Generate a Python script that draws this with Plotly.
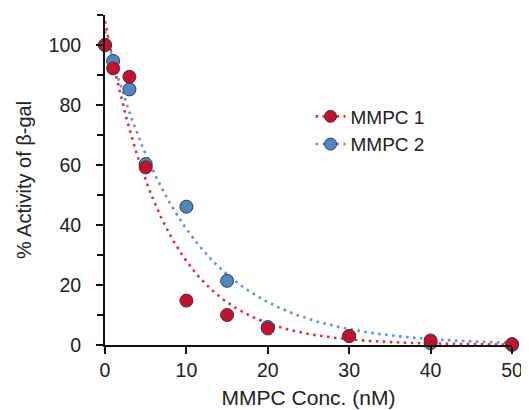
import numpy as np
import plotly.graph_objects as go

# ---- data ----
conc = [0, 1, 3, 5, 10, 15, 20, 30, 40, 50]
mmpc1 = [100, 92.2, 89.4, 59.2, 14.8, 10.0, 5.5, 3.0, 1.5, 0.3]
mmpc2 = [100, 94.7, 85.2, 60.3, 46.1, 21.4, 6.0, 3.0, 0.6, 0.0]
series_names = ["MMPC 1", "MMPC 2"]
x_ticks = [0, 10, 20, 30, 40, 50]
y_ticks = [0, 20, 40, 60, 80, 100]

RED = "#C8102E"
BLUE = "#4F86C6"
RED_LINE = "#E0303F"
BLUE_LINE = "#5B96D6"
FONT = "Liberation Sans, Arial, sans-serif"


def exp_fit(x, y):
    """Least-squares fit of y = A*exp(-k*x)."""
    x = np.asarray(x, float)
    y = np.asarray(y, float)
    best = None
    for k in np.linspace(0.01, 0.5, 4901):
        e = np.exp(-k * x)
        a = (y * e).sum() / (e * e).sum()
        sse = ((y - a * e) ** 2).sum()
        if best is None or sse < best[0]:
            best = (sse, a, k)
    return best[1], best[2]


xs = np.linspace(0, 50, 251)
fig = go.Figure()

for name, ys, lc in [("MMPC 2", mmpc2, BLUE_LINE), ("MMPC 1", mmpc1, RED_LINE)]:
    a, k = exp_fit(conc, ys)
    fig.add_trace(go.Scatter(x=xs, y=a * np.exp(-k * xs), mode="lines",
                             line=dict(color=lc, width=2.6, dash="2.6px,4.4px"),
                             showlegend=False, hoverinfo="skip", cliponaxis=True))

for name, ys, fc in [("MMPC 2", mmpc2, BLUE), ("MMPC 1", mmpc1, RED)]:
    fig.add_trace(go.Scatter(x=conc, y=ys, mode="markers", name=name,
                             marker=dict(size=13, color=fc,
                                         line=dict(color="#3a3a3a", width=1)),
                             showlegend=False, cliponaxis=False))

# legend entries (dotted line + marker)
for name, fc, lc in [("MMPC 1", RED, RED_LINE), ("MMPC 2", BLUE, BLUE_LINE)]:
    fig.add_trace(go.Scatter(x=[None], y=[None], mode="lines+markers", name=name,
                             line=dict(color=lc, width=2.6, dash="2.6px,4.4px"),
                             marker=dict(size=12, color=fc,
                                         line=dict(color="#3a3a3a", width=1))))

# page body has an 8px default margin, so the figure is sized to fit inside it
fig.update_layout(
    width=521, height=402,
    margin=dict(l=97, r=17, t=7, b=65),
    paper_bgcolor="white", plot_bgcolor="white",
    font=dict(family=FONT, size=19, color="#222222"),
    showlegend=True,
    legend=dict(x=0.505, y=0.75, xanchor="left", yanchor="top",
                font=dict(size=19, color="#222222"),
                bgcolor="rgba(0,0,0,0)", tracegroupgap=0, itemwidth=30),
    xaxis=dict(range=[0, 50], tickvals=x_ticks, showgrid=False, zeroline=False,
               showline=True, linecolor="#111111", linewidth=2,
               ticks="outside", ticklen=7, tickwidth=2, tickcolor="#111111",
               tickfont=dict(size=19.5, color="#222222"),
               ticklabelstandoff=0,
               title=dict(text="MMPC Conc. (nM)", standoff=10,
                          font=dict(size=21, color="#222222")),
               automargin=False),
    yaxis=dict(range=[0, 110], tickvals=y_ticks, showgrid=False, zeroline=False,
               showline=True, linecolor="#111111", linewidth=2,
               ticks="outside", ticklen=7, tickwidth=2, tickcolor="#111111",
               minor=dict(tickvals=[10, 30, 50, 70, 90, 110], ticks="outside",
                          ticklen=6, tickwidth=2, tickcolor="#111111", showgrid=False),
               tickfont=dict(size=19.5, color="#222222"),
               ticklabelstandoff=11,
               title=dict(text="% Activity of β-gal", standoff=12,
                          font=dict(size=20, color="#222222")),
               automargin=False),
)

fig.write_html("out.html")
